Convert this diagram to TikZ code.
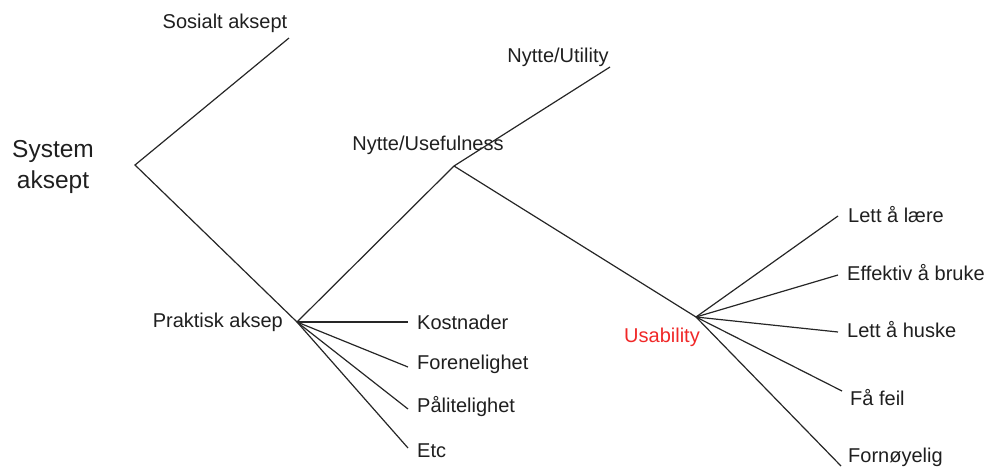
\documentclass[tikz,border=0pt]{standalone}
\usepackage{fontspec}
\setmainfont{Liberation Sans}
\begin{document}
\begin{tikzpicture}[x=1pt,y=-1pt,
  lbl/.style={inner sep=0pt,font=\fontsize{20}{24}\selectfont,text=black!88},
  big/.style={inner sep=0pt,font=\fontsize{24.5}{31}\selectfont,text=black!88,align=center},
  edge/.style={draw=black!85,line width=1.2pt}]
\useasboundingbox (0,0) rectangle (987,467);
% junctions
\coordinate (root) at (135,165);
\coordinate (prak) at (297,322);
\coordinate (use) at (454,166);
\coordinate (usab) at (696,317);
% free ends
\coordinate (sosE) at (289,38);
\coordinate (utilE) at (610,67);
\coordinate (kosE) at (408,322);
\coordinate (forE) at (408,367);
\coordinate (palE) at (408,409);
\coordinate (etcE) at (408,448);
\coordinate (l1E) at (838,216);
\coordinate (l2E) at (838,275);
\coordinate (l3E) at (838,332);
\coordinate (l4E) at (842,391);
\coordinate (l5E) at (841,466);
% labels
\node[big] (sys) at (53,167) {System\\aksept};
\node[lbl] (sos) at (225,23) {Sosialt aksept};
\node[lbl,anchor=east] (pra) at (283,322) {Praktisk aksep};
\node[lbl] (usef) at (428,145) {Nytte/Usefulness};
\node[lbl] (util) at (558,57) {Nytte/Utility};
\node[lbl,anchor=west] (kos) at (417,322) {Kostnader};
\node[lbl,anchor=west] (for) at (417,364) {Forenelighet};
\node[lbl,anchor=west] (pal) at (417,407) {Pålitelighet};
\node[lbl,anchor=west] (etc) at (417,451) {Etc};
\node[lbl,anchor=east,text={rgb,255:red,240;green,40;blue,40}] (usa) at (700,337) {Usability};
\node[lbl,anchor=west] (l1) at (848,215) {Lett å lære};
\node[lbl,anchor=west] (l2) at (847,273) {Effektiv å bruke};
\node[lbl,anchor=west] (l3) at (847,330) {Lett å huske};
\node[lbl,anchor=west] (l4) at (850,398) {Få feil};
\node[lbl,anchor=west] (l5) at (848,457) {Fornøyelig};
% connectors
\draw[edge] (sosE) -- (root) -- (prak);
\draw[edge] (prak) -- (use);
\draw[edge] (prak) -- (kosE);
\draw[edge] (prak) -- (forE);
\draw[edge] (prak) -- (palE);
\draw[edge] (prak) -- (etcE);
\draw[edge] (use) -- (utilE);
\draw[edge] (use) -- (usab);
\draw[edge] (usab) -- (l1E);
\draw[edge] (usab) -- (l2E);
\draw[edge] (usab) -- (l3E);
\draw[edge] (usab) -- (l4E);
\draw[edge] (usab) -- (l5E);
\end{tikzpicture}
\end{document}
